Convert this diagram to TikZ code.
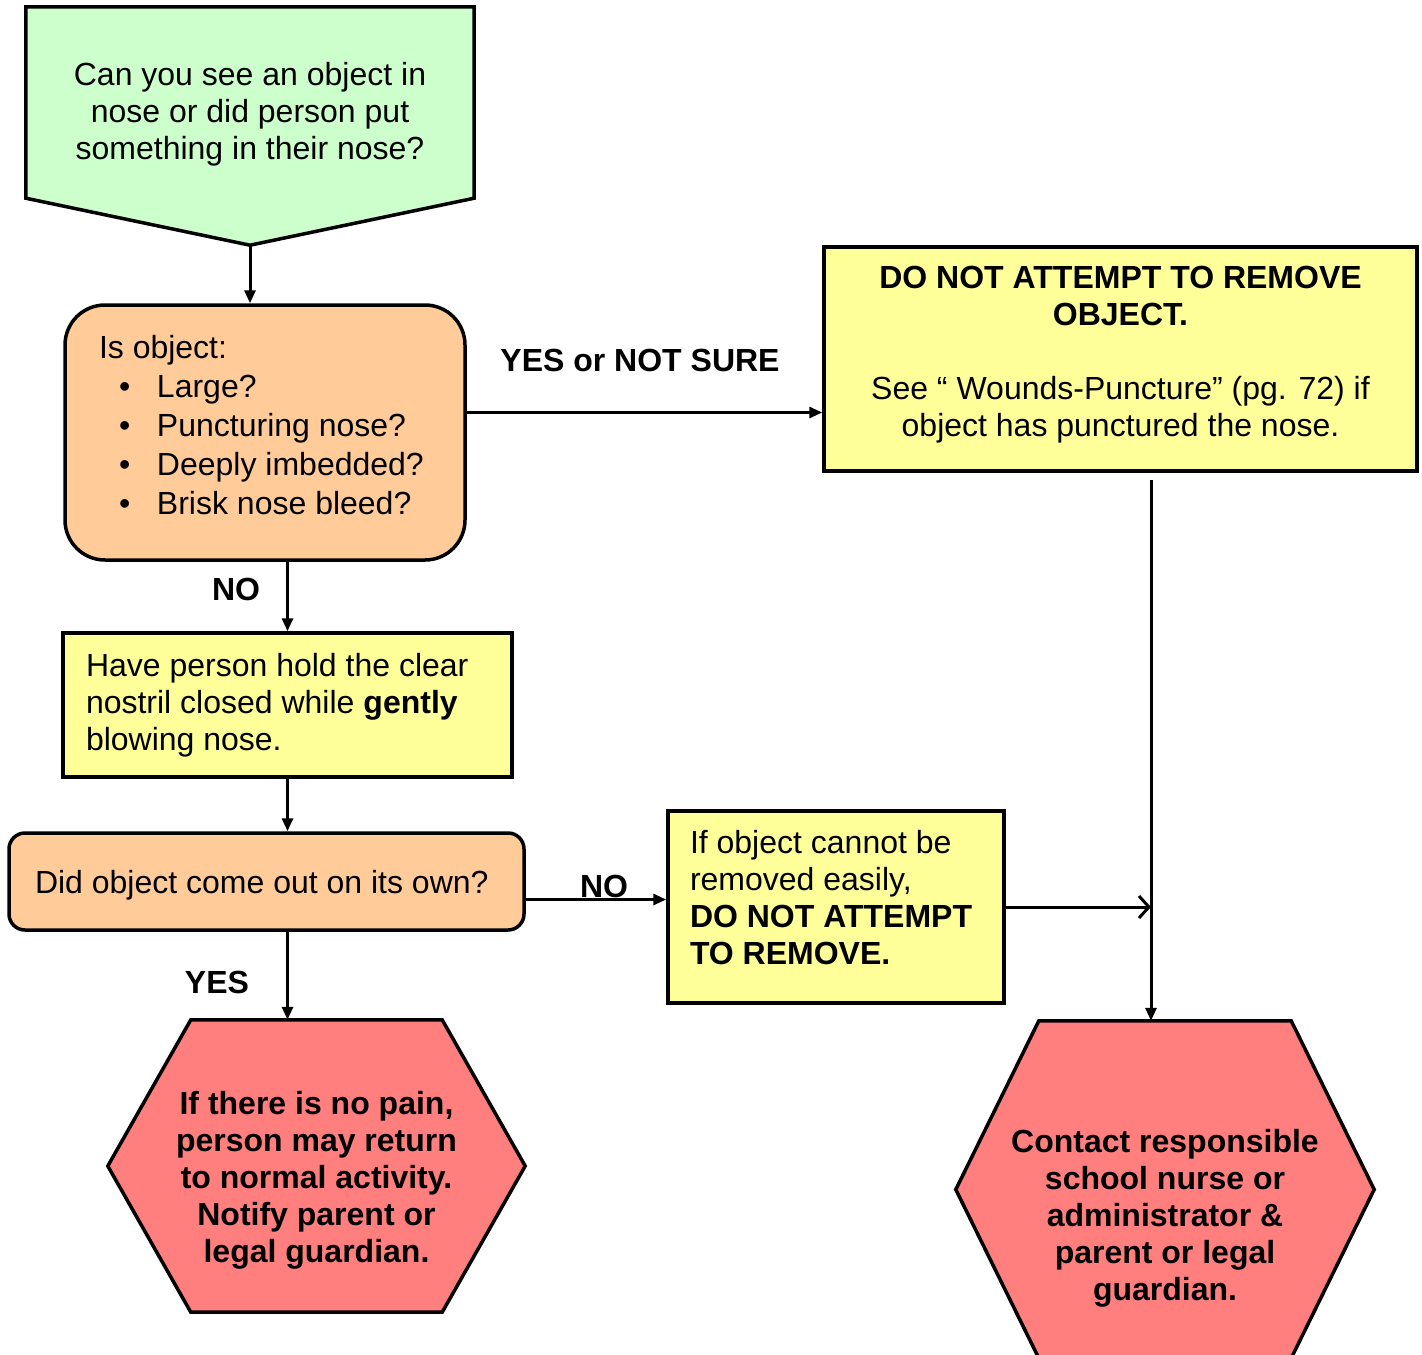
\documentclass[tikz,border=0pt]{standalone}
\usepackage{fontspec}
\setmainfont{Liberation Sans}
\usetikzlibrary{arrows.meta}

\definecolor{startgreen}{HTML}{CCFFCC}
\definecolor{askorange}{HTML}{FFCC99}
\definecolor{noteyellow}{HTML}{FFFF99}
\definecolor{endred}{HTML}{FF7F7F}

\begin{document}
\begin{tikzpicture}[x=1pt, y=-1pt,
		every node/.style={font=\fontsize{32pt}{37pt}\selectfont, inner sep=0pt},
		askbox/.style={draw=black, line width=3.5pt, fill=askorange, rounded corners=#1, align=flush left},
		askbox/.default=40pt,
		notebox/.style={draw=black, line width=3.5pt, fill=noteyellow, align=flush left},
		shapebox/.style={inner sep=0pt},
		shapeline/.style={draw=black, line width=3.5pt},
		lbl/.style={font=\fontsize{32pt}{37pt}\selectfont\bfseries},
		flow/.style={line width=3pt, -{Triangle[length=13pt,width=11pt]}},
		merge/.style={line width=3pt, -{Straight Barb[length=10pt,width=22pt,line width=3pt]}}]
		
		\useasboundingbox (0,0) rectangle (1422,1355);
		
		% question at the top
		\node[shapebox, minimum width=448pt, minimum height=191pt] (start) at (250,102.5) {};
		\coordinate (tip) at ([yshift=-47pt]start.south);
		\draw[shapeline, fill=startgreen] (start.north west) -- (start.north east) -- (start.south east) -- (tip) -- (start.south west) -- cycle;
		\node[align=flush center] (starttxt) at (250,114) {Can you see an object in\\nose or did person put\\something in their nose?};
		
		% checks on the object (the rules lift the text a little)
		\node[askbox, minimum width=400pt, minimum height=255pt, text width=332pt, inner xsep=34pt,
			font=\fontsize{32pt}{39pt}\selectfont] (check) at (265,432.5)
			{Is object:\\
			\hspace*{20pt}\makebox[38pt][l]{\textbullet}Large?\\
			\hspace*{20pt}\makebox[38pt][l]{\textbullet}Puncturing nose?\\
			\hspace*{20pt}\makebox[38pt][l]{\textbullet}Deeply imbedded?\\
			\hspace*{20pt}\makebox[38pt][l]{\textbullet}Brisk nose bleed?\rule[-15pt]{0pt}{1pt}};
		
		\node[notebox, align=flush center, minimum width=593pt, minimum height=224pt, text width=560pt, inner xsep=16.5pt] (warn) at (1120.5,359)
			{\textbf{DO NOT ATTEMPT TO REMOVE}\\\textbf{OBJECT.}\\[37pt]See “ Wounds-Puncture” (pg. 72) if\\object has punctured the nose.\rule[-15pt]{0pt}{1pt}};
		
		\node[notebox, minimum width=449pt, minimum height=144pt, text width=403pt, inner xsep=23pt] (blow) at (287.5,705)
			{Have person hold the clear\\nostril closed while \textbf{gently}\\blowing nose.};
		
		\node[askbox=16pt, minimum width=515pt, minimum height=97pt, text width=463pt, inner xsep=26pt] (out) at (266.5,881.5)
			{\rule{0pt}{31pt}Did object come out on its own?};
		
		\node[notebox, minimum width=336pt, minimum height=192pt, text width=292pt, inner xsep=22pt] (easy) at (836,907)
			{If object cannot be\\removed easily,\\\textbf{DO NOT ATTEMPT}\\\textbf{TO REMOVE.}\rule[-20pt]{0pt}{1pt}};
		
		% the two end points
		\node[shapebox, minimum width=417pt, minimum height=292pt] (okay) at (316.5,1166) {};
		\node[shapebox, minimum width=418pt, minimum height=337pt] (contact) at (1165,1189.5) {};
		\foreach \h in {okay,contact}
			\draw[shapeline, fill=endred] (\h.west) -- ([xshift=83pt]\h.north west) -- ([xshift=-83pt]\h.north east)
				-- (\h.east) -- ([xshift=-83pt]\h.south east) -- ([xshift=83pt]\h.south west) -- cycle;
		\node[lbl, align=flush center] (okaytxt) at ([yshift=-14pt]okay.center)
			{If there is no pain,\\person may return\\to normal activity.\\Notify parent or\\legal guardian.};
		\node[lbl, align=flush center] (contacttxt) at ([yshift=-29pt]contact.center)
			{Contact responsible\\school nurse or\\administrator \&\\parent or legal\\guardian.};
		
		% answers
		\node[lbl] (unsure) at (640,360) {YES or NOT SURE};
		\node[lbl] (notlarge) at (236,589) {NO};
		\node[lbl] (notout) at (604,886) {NO};
		\node[lbl] (isout) at (217,982) {YES};
		
		% connectors
		\draw[flow] (tip) -- (tip |- check.north);
		\draw[flow] ([yshift=20pt]check.east) coordinate (a) -- (a -| warn.west);
		\draw[flow] (blow.north |- check.south) -- (blow.north);
		\draw[flow] (blow.south) -- (blow.south |- out.north);
		\draw[flow] ([yshift=-18pt]out.east) coordinate (b) -- (b -| easy.west);
		\draw[flow] (blow.south |- out.south) -- (blow.south |- okay.north);
		\coordinate (drop) at ([xshift=30.5pt, yshift=-7pt]warn.south);
		\draw[flow] (drop) -- (drop |- contact.north);
		\draw[merge] (easy.east) -- (easy.east -| drop);
	\end{tikzpicture}
\end{document}
